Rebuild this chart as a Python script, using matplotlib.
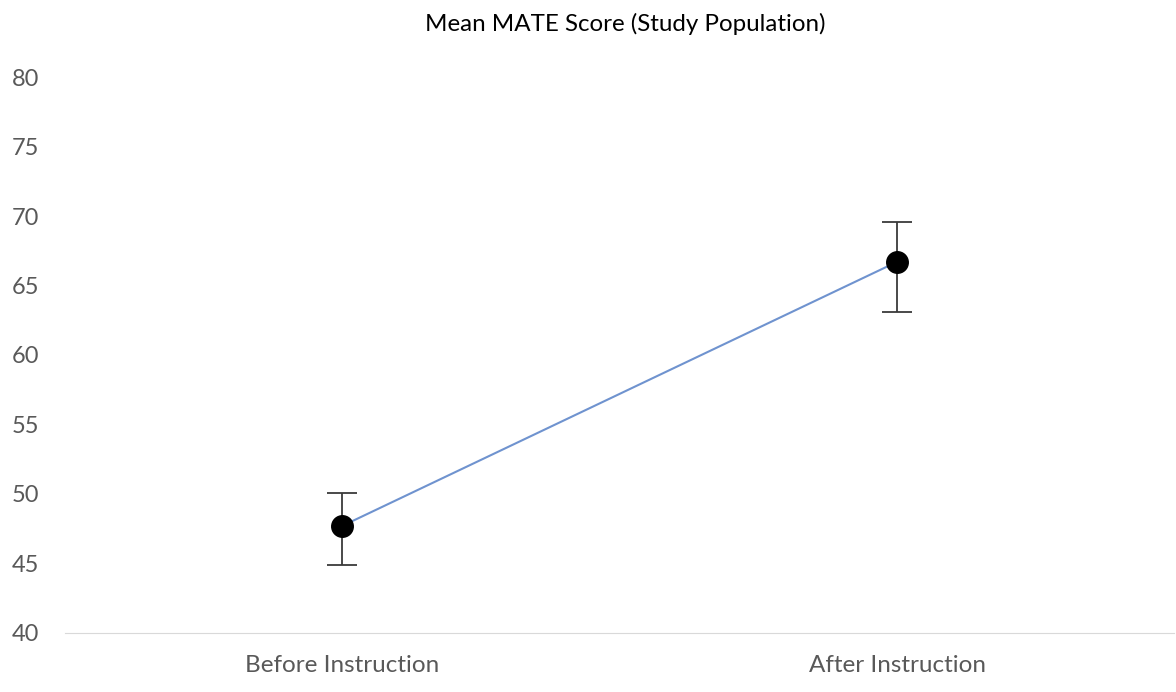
import matplotlib.pyplot as plt
import numpy as np

plt.rcParams['font.family'] = ['Lato', 'DejaVu Sans']

categories = ['Before Instruction', 'After Instruction']
mean_score = [47.7, 66.7]
err_low = [2.8, 3.6]
err_high = [2.35, 2.9]
yticks = [40, 45, 50, 55, 60, 65, 70, 75, 80]

fig = plt.figure(figsize=(11.76, 6.92), dpi=100)
ax = fig.add_axes([0.055, 0.0853, 0.9437, 0.8034])

x = np.arange(len(categories))
ax.plot(x, mean_score, color='#6f93cf', lw=1.5, zorder=2)
ax.errorbar(x, mean_score, yerr=[err_low, err_high], fmt='none',
            ecolor='#3a3a3a', elinewidth=1.3, capsize=10.5, capthick=1.3, zorder=3)
ax.plot(x, mean_score, 'o', color='black', ms=15.5, zorder=4)

ax.set_xlim(-0.5, 1.5)
ax.set_ylim(40, 80)
ax.set_xticks(x)
ax.set_xticklabels(categories, fontsize=17.5)
ax.set_yticks(yticks)
ax.tick_params(length=0, labelsize=17, labelcolor='#595959')
ax.tick_params(axis='x', labelsize=17.5, pad=16)
ax.tick_params(axis='y', pad=38)
for t in ax.get_yticklabels():
    t.set_horizontalalignment('left')

for s in ['top', 'right', 'left']:
    ax.spines[s].set_visible(False)
ax.spines['bottom'].set_color('#d9d9d9')

fig.text(0.532, 0.966, 'Mean MATE Score (Study Population)', ha='center', va='center',
         fontsize=17.4, color='black')

fig.savefig('out.png', dpi=100)
